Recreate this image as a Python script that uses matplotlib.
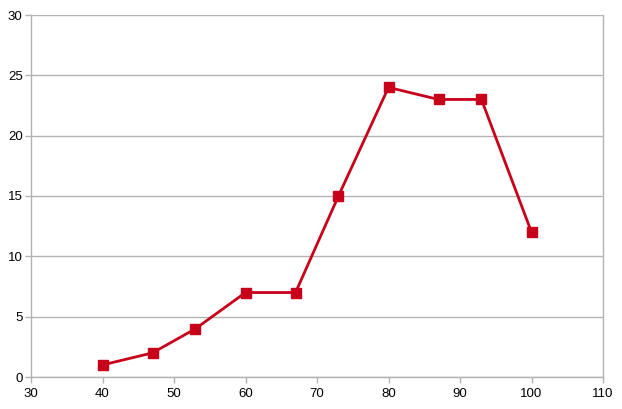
import matplotlib
matplotlib.use("Agg")
import matplotlib.pyplot as plt

x_vals = [40, 47, 53, 60, 67, 73, 80, 87, 93, 100]
y_vals = [1, 2, 4, 7, 7, 15, 24, 23, 23, 12]
x_ticks = [30, 40, 50, 60, 70, 80, 90, 100, 110]
y_ticks = [0, 5, 10, 15, 20, 25, 30]

plt.rcParams['font.family'] = ['Liberation Sans', 'DejaVu Sans']

fig = plt.figure(figsize=(6.22, 4.09), dpi=100)
ax = fig.add_axes([31 / 622, 1 - 377 / 409, (603 - 31) / 622, (377 - 15) / 409])

grid_col = '#b3b3b3'
ax.plot(x_vals, y_vals, color='#c9001a', lw=2.0, marker='s', ms=6.5, zorder=3)

ax.set_xlim(30, 110)
ax.set_ylim(0, 30)
ax.set_xticks(x_ticks)
ax.set_yticks(y_ticks)
ax.yaxis.grid(True, color=grid_col, lw=1)
ax.set_axisbelow(True)
ax.spines['top'].set_visible(False)
for side in ['left', 'bottom', 'right']:
    ax.spines[side].set_color(grid_col)
    ax.spines[side].set_linewidth(1)
ax.tick_params(axis='both', colors=grid_col, labelcolor='#000000', length=4, width=1, labelsize=9.5)
ax.tick_params(axis='x', pad=4)
ax.tick_params(axis='y', pad=2)

fig.savefig('out.png', dpi=100)
